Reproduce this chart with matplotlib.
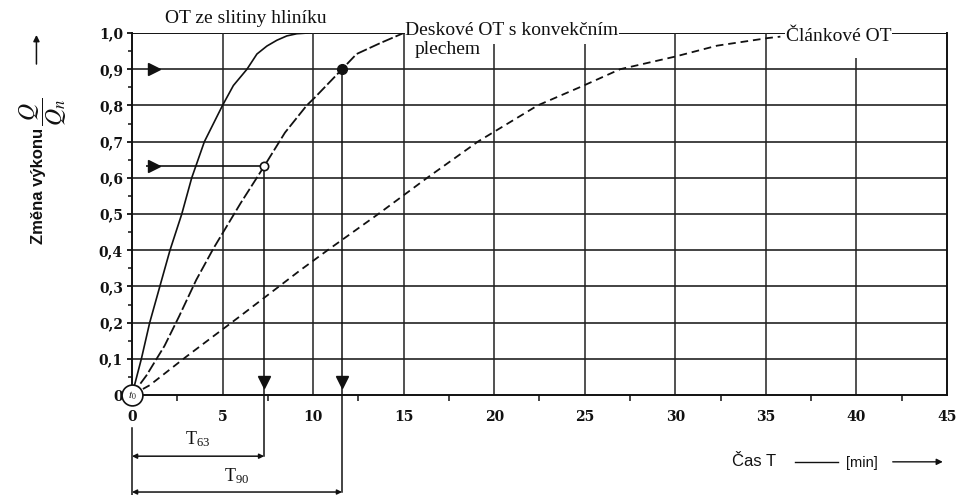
import numpy as np
import matplotlib
matplotlib.use("Agg")
import matplotlib.pyplot as plt

plt.rcParams["lines.scale_dashes"] = False
plt.rcParams["mathtext.fontset"] = "stix"

# odečtené body náběhových křivek (čas v min, poměr Q/Qn)
hlinik_t = [0, 0.52, 0.98, 1.64, 2.1, 2.75, 3.3, 4.0, 5.0, 5.6, 6.35, 6.9, 7.45, 8.0, 8.55, 9.1, 9.7]
hlinik_q = [0, 0.10, 0.20, 0.318, 0.40, 0.50, 0.60, 0.70, 0.80, 0.855, 0.90, 0.942, 0.964, 0.98, 0.992, 0.998, 1.0]

deskove_t = [0, 0.8, 1.8, 2.6, 3.55, 4.5, 6.0, 7.3, 8.45, 9.65, 10.1, 11.6, 12.4, 13.7, 15.0]
deskove_q = [0, 0.054, 0.136, 0.217, 0.318, 0.405, 0.53, 0.632, 0.725, 0.80, 0.822, 0.90, 0.942, 0.972, 1.0]

clanek_t = [0, 0.98, 3.0, 4.3, 5.95, 9.3, 10.8, 13.6, 16.3, 19.1, 22.4, 24.9, 26.95, 30.0, 32.3, 35.1, 35.8]
clanek_q = [0, 0.027, 0.106, 0.155, 0.217, 0.345, 0.40, 0.50, 0.60, 0.70, 0.80, 0.854, 0.90, 0.935, 0.965, 0.986, 0.99]

# časové konstanty deskového OT
T63, Q63 = 7.3, 0.632
T90, Q90 = 11.6, 0.90

# mřížka
grid_y = [0.1, 0.2, 0.3, 0.4, 0.5, 0.6, 0.7, 0.8, 0.9]
grid_x = [5, 10, 15, 20, 25, 30, 35, 40]
grid_x_top = [1.0, 1.0, 1.0, 0.97, 0.97, 1.0, 1.0, 0.93]

x_ticks = [0, 5, 10, 15, 20, 25, 30, 35, 40, 45]
y_ticks = [0, 0.1, 0.2, 0.3, 0.4, 0.5, 0.6, 0.7, 0.8, 0.9, 1.0]
y_ticklabels = ["0", "0,1", "0,2", "0,3", "0,4", "0,5", "0,6", "0,7", "0,8", "0,9", "1,0"]

INK = "#111111"
GRID = "#222222"

fig = plt.figure(figsize=(9.59, 4.95), dpi=100)
ax = fig.add_axes([0.1376, 0.202, 0.8499, 0.7313])
ax.set_xlim(0, 45)
ax.set_ylim(0, 1.0)

for s in ["left", "bottom", "right"]:
    ax.spines[s].set_linewidth(1.4)
    ax.spines[s].set_color(INK)
ax.spines["top"].set_visible(False)

ax.hlines(grid_y, 0, 45, color=GRID, lw=1.2, zorder=1)
ax.hlines(1.0, 0, 45, color=INK, lw=1.4, zorder=1)
ax.vlines(grid_x, 0, grid_x_top, color=GRID, lw=1.1, zorder=1)

ax.set_xticks(x_ticks)
ax.set_xticklabels([str(v) for v in x_ticks])
ax.set_xticks(np.arange(2.5, 45, 5), minor=True)
ax.set_yticks(y_ticks)
ax.set_yticklabels(y_ticklabels)
ax.set_yticks(np.arange(0.05, 1.0, 0.1), minor=True)
ax.tick_params(axis="x", which="major", length=0, pad=11)
ax.tick_params(axis="x", which="minor", length=4, width=1.1, direction="out", color=INK)
ax.tick_params(axis="y", which="major", length=3.5, width=1.3, pad=3, color=INK)
ax.tick_params(axis="y", which="minor", length=3, width=1.1, color=INK)
for lab in ax.get_xticklabels() + ax.get_yticklabels():
    lab.set_fontfamily("DejaVu Serif")
    lab.set_fontweight("bold")
    lab.set_fontsize(10)
    lab.set_color(INK)

# křivky
ax.plot(hlinik_t, hlinik_q, color=INK, lw=1.2, zorder=3)
ax.plot(deskove_t, deskove_q, color=INK, lw=1.3, dashes=(8, 2.2), zorder=3)
ax.plot(clanek_t, clanek_q, color=INK, lw=1.3, dashes=(5.5, 3.5), zorder=3)

# odečet T63 a T90
ax.hlines(Q63, 0.8, T63, color=INK, lw=1.2, zorder=2)
ax.plot([T63, T63], [Q63, -0.169], color=INK, lw=1.1, clip_on=False, zorder=2)
ax.plot([T90, T90], [Q90, -0.268], color=INK, lw=1.1, clip_on=False, zorder=2)
ax.plot([0, 0], [-0.09, -0.276], color=INK, lw=1.1, clip_on=False)
ax.plot([1.2, 1.2], [Q90, Q63], ls="none", marker=">", ms=8, color=INK, zorder=4)
ax.plot([T63, T90], [0.035, 0.035], ls="none", marker="v", ms=8, color=INK, zorder=4)
ax.plot(T63, Q63, marker="o", ms=6, mfc="white", mec=INK, mew=1.2, zorder=5)
ax.plot(T90, Q90, marker="o", ms=7, color=INK, zorder=5)

for t_end, yb, name, yl in [(T63, -0.169, r"$\mathregular{T_{63}}$", -0.122),
                            (T90, -0.268, r"$\mathregular{T_{90}}$", -0.225)]:
    ax.annotate("", xy=(0, yb), xytext=(t_end, yb), annotation_clip=False,
                arrowprops=dict(arrowstyle="<|-|>", color=INK, lw=1.1,
                                mutation_scale=7, shrinkA=0, shrinkB=0))
    ax.text(t_end / 2, yl, name, ha="center", va="center", fontsize=13,
            family="Liberation Serif", color=INK, clip_on=False)

# počátek t0
ax.plot(0, 0, marker="o", ms=15, mfc="white", mec=INK, mew=1.2, clip_on=False, zorder=6)
ax.text(0, -0.003, r"$t_0$", ha="center", va="center", fontsize=8, color=INK, zorder=7)

# popisky křivek
ax.text(1.8, 1.04, "OT ze slitiny hliníku", ha="left", va="center", fontsize=14,
        family="Liberation Serif", color=INK, clip_on=False)
ax.text(15.1, 1.008, "Deskové OT s konvekčním", ha="left", va="center", fontsize=14,
        family="Liberation Serif", color=INK, zorder=8, clip_on=False,
        bbox=dict(fc="white", ec="none", pad=0.5))
ax.text(15.6, 0.955, "plechem", ha="left", va="center", fontsize=14,
        family="Liberation Serif", color=INK, zorder=8,
        bbox=dict(fc="white", ec="none", pad=0.2))
ax.text(36.1, 0.99, "Článkové OT", ha="left", va="center", fontsize=14,
        family="Liberation Serif", color=INK, zorder=8,
        bbox=dict(fc="white", ec="none", pad=0.5))

# popis osy y
fig.text(0.040, 0.625, "Změna výkonu", rotation=90, ha="center", va="center",
         fontsize=12, fontweight="bold", family="Liberation Sans", color=INK)
fig.text(0.045, 0.775, r"$\dfrac{Q}{Q_n}$", rotation=90, ha="center", va="center",
         fontsize=17, color=INK)
fig.add_artist(matplotlib.patches.FancyArrowPatch(
    (0.038, 0.865), (0.038, 0.935), transform=fig.transFigure,
    arrowstyle="-|>", mutation_scale=9, color=INK, lw=1.1))

# popis osy x
fig.text(0.786, 0.067, "Čas T", ha="center", va="center", fontsize=12,
         family="Liberation Sans", color=INK)
fig.add_artist(matplotlib.lines.Line2D([0.829, 0.874], [0.067, 0.067],
                                       transform=fig.transFigure, color=INK, lw=1.0))
fig.text(0.899, 0.064, "[min]", ha="center", va="center", fontsize=10.5,
         family="Liberation Sans", color=INK)
fig.add_artist(matplotlib.patches.FancyArrowPatch(
    (0.928, 0.067), (0.986, 0.067), transform=fig.transFigure,
    arrowstyle="-|>", mutation_scale=9, color=INK, lw=1.0))

fig.savefig("out.png", dpi=100, facecolor="white")
